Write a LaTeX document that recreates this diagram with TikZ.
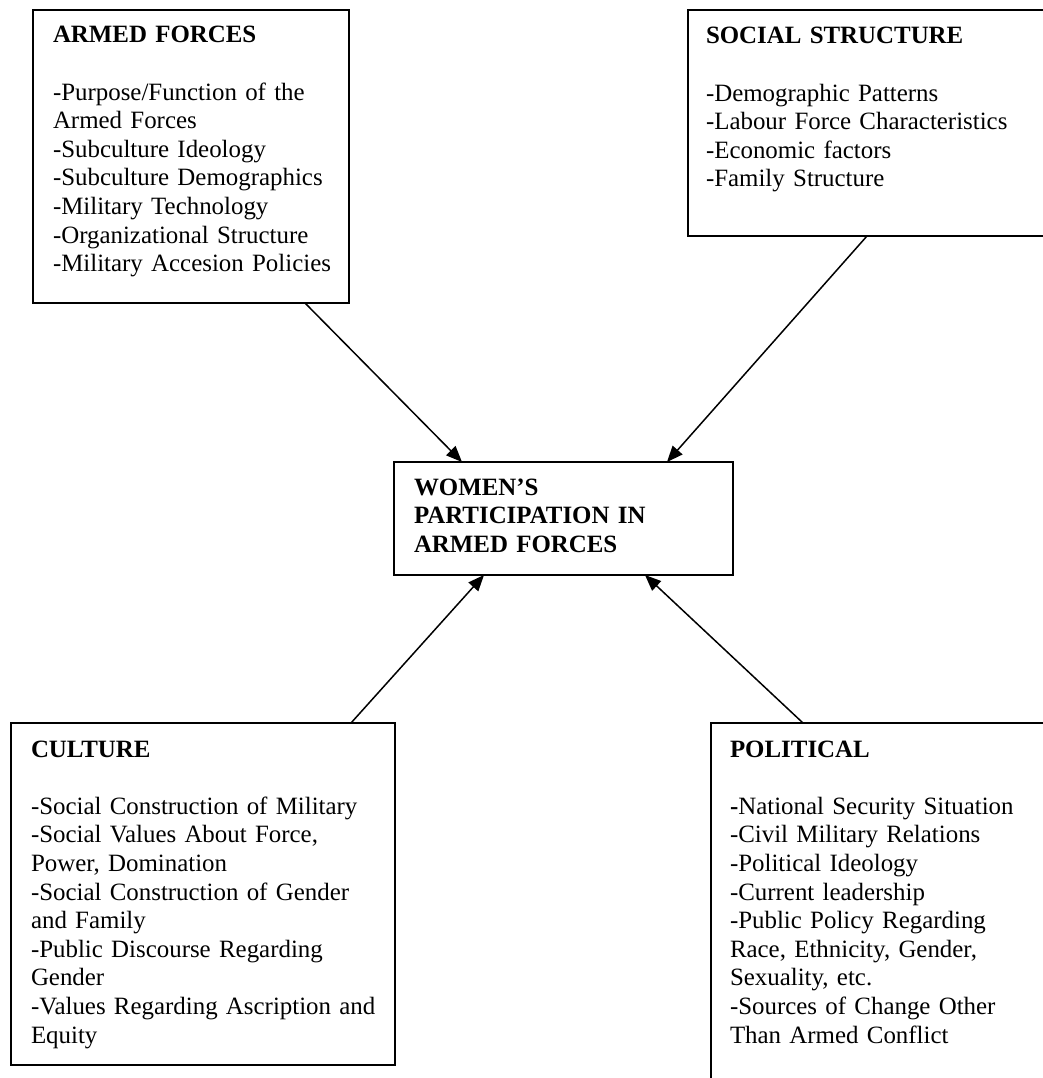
\documentclass[tikz,border=0pt]{standalone}
\usepackage{fontspec}
\setmainfont{Liberation Serif}
\usetikzlibrary{arrows.meta,calc}
% strut that fixes the top of the first line of every text block
\newcommand\firstlinestrut{\rule{0pt}{24pt}}
\begin{document}
\begin{tikzpicture}[x=1pt,y=-1pt,
  panel/.style={draw=black, line width=2pt, inner sep=0pt, outer sep=0pt, anchor=north west},
  paneltext/.style={anchor=north west, inner sep=0pt, outer sep=0pt, align=left, text width=420pt,
    font=\fontsize{24.9pt}{28.6pt}\selectfont},
  influence/.style={line width=1.5pt, -{Triangle[length=16pt,width=13pt]}}]
\useasboundingbox (0,0) rectangle (1043,1078);
\clip (0,0) rectangle (1043,1078);
\fill[white] (0,0) rectangle (1043,1078);

% frames
\node[panel, minimum width=316pt, minimum height=293pt] (armed) at (33,10) {};
\node[panel, minimum width=380pt, minimum height=226pt] (social) at (688,10) {};
\node[panel, minimum width=339pt, minimum height=113pt] (women) at (394,462) {};
\node[panel, minimum width=384pt, minimum height=342pt] (culture) at (11,723) {};
\node[panel, minimum width=360pt, minimum height=380pt] (political) at (711,723) {};

% contents (first baseline = node top + 24pt)
\node[paneltext] (armedtext) at (53,19) {\firstlinestrut\textbf{ARMED FORCES}\\[28.6pt]
-Purpose/Function of the\\
Armed Forces\\
-Subculture Ideology\\
-Subculture Demographics\\
-Military Technology\\
-Organizational Structure\\
-Military Accesion Policies};

\node[paneltext] (socialtext) at (706,20) {\firstlinestrut\textbf{SOCIAL STRUCTURE}\\[28.6pt]
-Demographic Patterns\\
-Labour Force Characteristics\\
-Economic factors\\
-Family Structure};

\node[paneltext] (womentext) at (414,471) {\firstlinestrut\textbf{WOMEN’S}\\
\textbf{PARTICIPATION IN}\\
\textbf{ARMED FORCES}};

\node[paneltext] (culturetext) at (31,733) {\firstlinestrut\textbf{CULTURE}\\[28.6pt]
-Social Construction of Military\\
-Social Values About Force,\\
Power, Domination\\
-Social Construction of Gender\\
and Family\\
-Public Discourse Regarding\\
Gender\\
-Values Regarding Ascription and\\
Equity};

\node[paneltext] (politicaltext) at (730,733) {\firstlinestrut\textbf{POLITICAL}\\[28.6pt]
\textbf{-}National Security Situation\\
-Civil Military Relations\\
-Political Ideology\\
-Current leadership\\
-Public Policy Regarding\\
Race, Ethnicity, Gender,\\
Sexuality, etc.\\
-Sources of Change Other\\
Than Armed Conflict};

% connector ends on the frame edges
\coordinate (armed-out) at ($(armed.south west)+(272,0)$);
\coordinate (social-out) at ($(social.south west)+(179,0)$);
\coordinate (culture-out) at ($(culture.north west)+(340,0)$);
\coordinate (political-out) at ($(political.north west)+(92,0)$);
\coordinate (women-in-armed) at ($(women.north west)+(68,0)$);
\coordinate (women-in-social) at ($(women.north west)+(273,0)$);
\coordinate (women-in-culture) at ($(women.south west)+(90,0)$);
\coordinate (women-in-political) at ($(women.south west)+(251,0)$);

\draw[influence] (armed-out) -- (women-in-armed);
\draw[influence] (social-out) -- (women-in-social);
\draw[influence] (culture-out) -- (women-in-culture);
\draw[influence] (political-out) -- (women-in-political);
\end{tikzpicture}
\end{document}
